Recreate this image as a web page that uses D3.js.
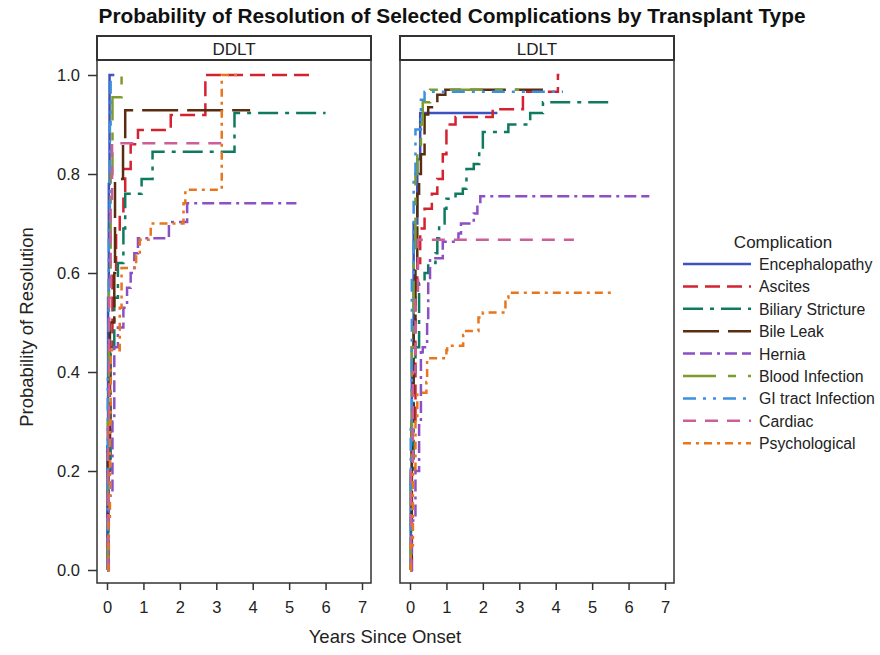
<!DOCTYPE html>
<html lang="en">
<head>
    <meta charset="UTF-8">
    <title>Probability of Resolution</title>
    <script src="https://d3js.org/d3.v7.min.js"></script>
    <style>
        body { margin: 0; background: #fff; }
        text { font-family: Arial, "Liberation Sans", sans-serif; fill: #222; }
    </style>
</head>
<body>

<script>

    var panels = ["DDLT", "LDLT"];
    var complications = ["Encephalopathy", "Ascites", "Biliary Stricture", "Bile Leak", "Hernia",
        "Blood Infection", "GI tract Infection", "Cardiac", "Psychological"];
    var xTicks = [0, 1, 2, 3, 4, 5, 6, 7];
    var yTicks = [0, 0.2, 0.4, 0.6, 0.8, 1.0];

    // step points: [years, probability]
    var ddltEncephalopathy = [[0, 0], [0.01, 0.25], [0.03, 0.55], [0.05, 0.78], [0.07, 1.0], [0.2, 1.0]];
    var ddltAscites = [[0, 0], [0.03, 0.2], [0.08, 0.45], [0.15, 0.6], [0.25, 0.68], [0.35, 0.72], [0.45, 0.76],
        [0.5, 0.81], [0.65, 0.86], [0.85, 0.889], [1.75, 0.919], [2.7, 1.0], [5.6, 1.0]];
    var ddltBiliary = [[0, 0], [0.04, 0.2], [0.1, 0.45], [0.2, 0.55], [0.3, 0.62], [0.45, 0.69], [0.5, 0.76],
        [0.95, 0.79], [1.25, 0.845], [3.5, 0.923], [6.0, 0.923]];
    var ddltBileLeak = [[0, 0], [0.03, 0.25], [0.08, 0.5], [0.2, 0.6], [0.22, 0.79], [0.44, 0.86], [0.5, 0.929],
        [3.93, 0.929]];
    var ddltHernia = [[0, 0], [0.05, 0.15], [0.15, 0.3], [0.2, 0.45], [0.3, 0.49], [0.45, 0.53], [0.55, 0.57],
        [0.65, 0.6], [0.75, 0.64], [0.85, 0.67], [1.7, 0.703], [2.2, 0.741], [5.2, 0.741]];
    var ddltBlood = [[0, 0], [0.02, 0.3], [0.05, 0.6], [0.1, 0.8], [0.15, 0.955], [0.4, 1.0], [0.6, 1.0]];
    var ddltGI = [[0, 0], [0.02, 0.4], [0.05, 0.7], [0.08, 0.9], [0.1, 1.0], [0.15, 1.0]];
    var ddltCardiac = [[0, 0], [0.03, 0.3], [0.06, 0.55], [0.1, 0.75], [0.14, 0.862], [3.15, 0.862]];
    var ddltPsych = [[0, 0], [0.04, 0.1], [0.08, 0.3], [0.1, 0.444], [0.35, 0.53], [0.4, 0.61], [0.8, 0.636],
        [0.9, 0.667], [1.2, 0.7], [2.1, 0.741], [2.15, 0.768], [3.15, 1.0], [3.6, 1.0]];

    var ldltEncephalopathy = [[0, 0], [0.02, 0.2], [0.05, 0.45], [0.1, 0.7], [0.2, 0.83], [0.28, 0.923], [2.4, 0.923]];
    var ldltAscites = [[0, 0], [0.05, 0.3], [0.15, 0.55], [0.2, 0.62], [0.28, 0.69], [0.4, 0.73], [0.6, 0.76],
        [0.75, 0.79], [0.9, 0.84], [1.0, 0.9], [1.25, 0.915], [2.27, 0.931], [3.1, 0.966], [4.06, 1.0], [4.1, 1.0]];
    var ldltBiliary = [[0, 0], [0.03, 0.2], [0.1, 0.4], [0.15, 0.45], [0.25, 0.58], [0.4, 0.6], [0.5, 0.62],
        [0.7, 0.64], [0.75, 0.67], [0.8, 0.7], [0.95, 0.73], [1.0, 0.75], [1.25, 0.76], [1.45, 0.77], [1.55, 0.81],
        [1.75, 0.82], [1.9, 0.85], [2.0, 0.885], [2.7, 0.9], [3.3, 0.923], [3.65, 0.945], [5.6, 0.945]];
    var ldltBileLeak = [[0, 0], [0.05, 0.3], [0.1, 0.5], [0.15, 0.62], [0.2, 0.76], [0.25, 0.8], [0.3, 0.84],
        [0.4, 0.92], [0.5, 0.935], [0.75, 0.96], [0.97, 0.97], [3.65, 0.97]];
    var ldltHernia = [[0, 0], [0.05, 0.1], [0.15, 0.2], [0.25, 0.3], [0.3, 0.44], [0.35, 0.45], [0.47, 0.5],
        [0.5, 0.59], [0.55, 0.63], [0.9, 0.663], [1.33, 0.68], [1.4, 0.7], [1.75, 0.72], [1.85, 0.737],
        [1.93, 0.755], [6.57, 0.755]];
    var ldltBlood = [[0, 0], [0.02, 0.2], [0.05, 0.45], [0.1, 0.65], [0.15, 0.8], [0.2, 0.84], [0.3, 0.9],
        [0.35, 0.945], [0.55, 0.97], [3.0, 0.97]];
    var ldltGI = [[0, 0], [0.02, 0.3], [0.05, 0.6], [0.1, 0.8], [0.15, 0.89], [0.3, 0.95], [0.4, 0.966], [4.2, 0.966]];
    var ldltCardiac = [[0, 0], [0.03, 0.2], [0.08, 0.4], [0.15, 0.55], [0.22, 0.667], [4.5, 0.667]];
    var ldltPsych = [[0, 0], [0.02, 0.05], [0.08, 0.2], [0.15, 0.3], [0.2, 0.358], [0.45, 0.38], [0.47, 0.428],
        [1.0, 0.444], [1.02, 0.453], [1.46, 0.475], [1.5, 0.483], [1.88, 0.51], [2.0, 0.52], [2.62, 0.55],
        [2.7, 0.56], [5.6, 0.56]];

    var panelCurves = [
        [ddltEncephalopathy, ddltAscites, ddltBiliary, ddltBileLeak, ddltHernia, ddltBlood, ddltGI, ddltCardiac, ddltPsych],
        [ldltEncephalopathy, ldltAscites, ldltBiliary, ldltBileLeak, ldltHernia, ldltBlood, ldltGI, ldltCardiac, ldltPsych]
    ];

    // line styles, one per complication
    var colors = ["#3c52c0", "#d42330", "#0e7a60", "#5a2d10", "#8c4fc6", "#7d9c2c", "#3d90e0", "#cc5f98", "#e8761e"];
    var dashes = ["none", "15,7", "20,7,4,7", "36,9", "12,5,12,5,3,5", "33,12,8,12", "13,7,3,7,3,7", "13,9", "8,5,3,5"];

    var width = 880, height = 655;
    var panelLeft = [97, 400], panelWidth = 274;
    var headerTop = 36, plotTop = 60, plotBottom = 583;

    var svg = d3.select("body").append("svg")
            .attr("width", width)
            .attr("height", height);

    var xScale = d3.scaleLinear()
            .domain([0, 7])
            .range([10, 265]);

    var yScale = d3.scaleLinear()
            .domain([0, 1])
            .range([570, 75]);

    var line = d3.line()
            .x(function (d) { return xScale(d[0]); })
            .y(function (d) { return yScale(d[1]); })
            .curve(d3.curveStepAfter);

    // title
    svg.append("text")
            .attr("x", 452)
            .attr("y", 23)
            .attr("text-anchor", "middle")
            .attr("textLength", 707)
            .attr("lengthAdjust", "spacingAndGlyphs")
            .style("font-size", "20px")
            .style("font-weight", "bold")
            .style("fill", "#111")
            .text("Probability of Resolution of Selected Complications by Transplant Type");

    var panelGroup = svg.selectAll("g.panel")
            .data(panels)
            .enter()
            .append("g")
            .attr("class", "panel")
            .attr("transform", function (d, i) {
                return "translate(" + panelLeft[i] + ",0)";
            });

    // header box
    panelGroup.append("rect")
            .attr("x", 0)
            .attr("y", headerTop)
            .attr("width", panelWidth)
            .attr("height", plotTop - headerTop)
            .attr("fill", "#fff")
            .attr("stroke", "#333")
            .attr("stroke-width", 2);

    panelGroup.append("text")
            .attr("x", panelWidth / 2)
            .attr("y", 55)
            .attr("text-anchor", "middle")
            .style("font-size", "17px")
            .text(function (d) { return d; });

    // x axis
    panelGroup.append("g")
            .attr("class", "xaxis")
            .attr("transform", "translate(0," + plotBottom + ")")
            .call(d3.axisBottom(xScale).tickValues(xTicks).tickFormat(d3.format("d")).tickSize(7).tickPadding(11));

    // curves
    panelGroup.each(function (p, i) {
        d3.select(this).append("g")
                .selectAll("path")
                .data(panelCurves[i])
                .enter()
                .append("path")
                .attr("d", line)
                .attr("fill", "none")
                .attr("stroke", function (d, j) { return colors[j]; })
                .attr("stroke-width", 2.5)
                .attr("stroke-dasharray", function (d, j) { return dashes[j]; });
    });

    // plot frame
    panelGroup.append("rect")
            .attr("x", 0)
            .attr("y", plotTop)
            .attr("width", panelWidth)
            .attr("height", plotBottom - plotTop)
            .attr("fill", "none")
            .attr("stroke", "#333")
            .attr("stroke-width", 1.5);

    // y axis on first panel only
    svg.append("g")
            .attr("class", "yaxis")
            .attr("transform", "translate(" + panelLeft[0] + ",0)")
            .call(d3.axisLeft(yScale).tickValues(yTicks).tickFormat(d3.format(".1f")).tickSize(9).tickPadding(8));

    d3.selectAll(".xaxis .domain, .yaxis .domain").remove();
    d3.selectAll(".tick line").attr("stroke", "#333").attr("stroke-width", 1.5);
    d3.selectAll(".tick text")
            .style("font-size", "16.5px")
            .style("font-family", "Arial, 'Liberation Sans', sans-serif")
            .attr("fill", "#222");

    // axis labels
    svg.append("text")
            .attr("x", 385)
            .attr("y", 643)
            .attr("text-anchor", "middle")
            .style("font-size", "18.5px")
            .text("Years Since Onset");

    svg.append("text")
            .attr("transform", "translate(33,327) rotate(-90)")
            .attr("text-anchor", "middle")
            .style("font-size", "18.5px")
            .text("Probability of Resolution");

    // legend
    var legend = svg.append("g")
            .attr("transform", "translate(683,0)");

    legend.append("text")
            .attr("x", 100)
            .attr("y", 248)
            .attr("text-anchor", "middle")
            .style("font-size", "17px")
            .text("Complication");

    var legendItem = legend.selectAll("g.item")
            .data(complications)
            .enter()
            .append("g")
            .attr("class", "item")
            .attr("transform", function (d, i) {
                return "translate(0," + (264 + i * 22.4) + ")";
            });

    legendItem.append("line")
            .attr("x1", 0)
            .attr("x2", 68)
            .attr("stroke", function (d, i) { return colors[i]; })
            .attr("stroke-width", 2.5)
            .attr("stroke-dasharray", function (d, i) { return dashes[i]; });

    legendItem.append("text")
            .attr("x", 76)
            .attr("y", 6)
            .style("font-size", "15.8px")
            .text(function (d) { return d; });

</script>

</body>
</html>
